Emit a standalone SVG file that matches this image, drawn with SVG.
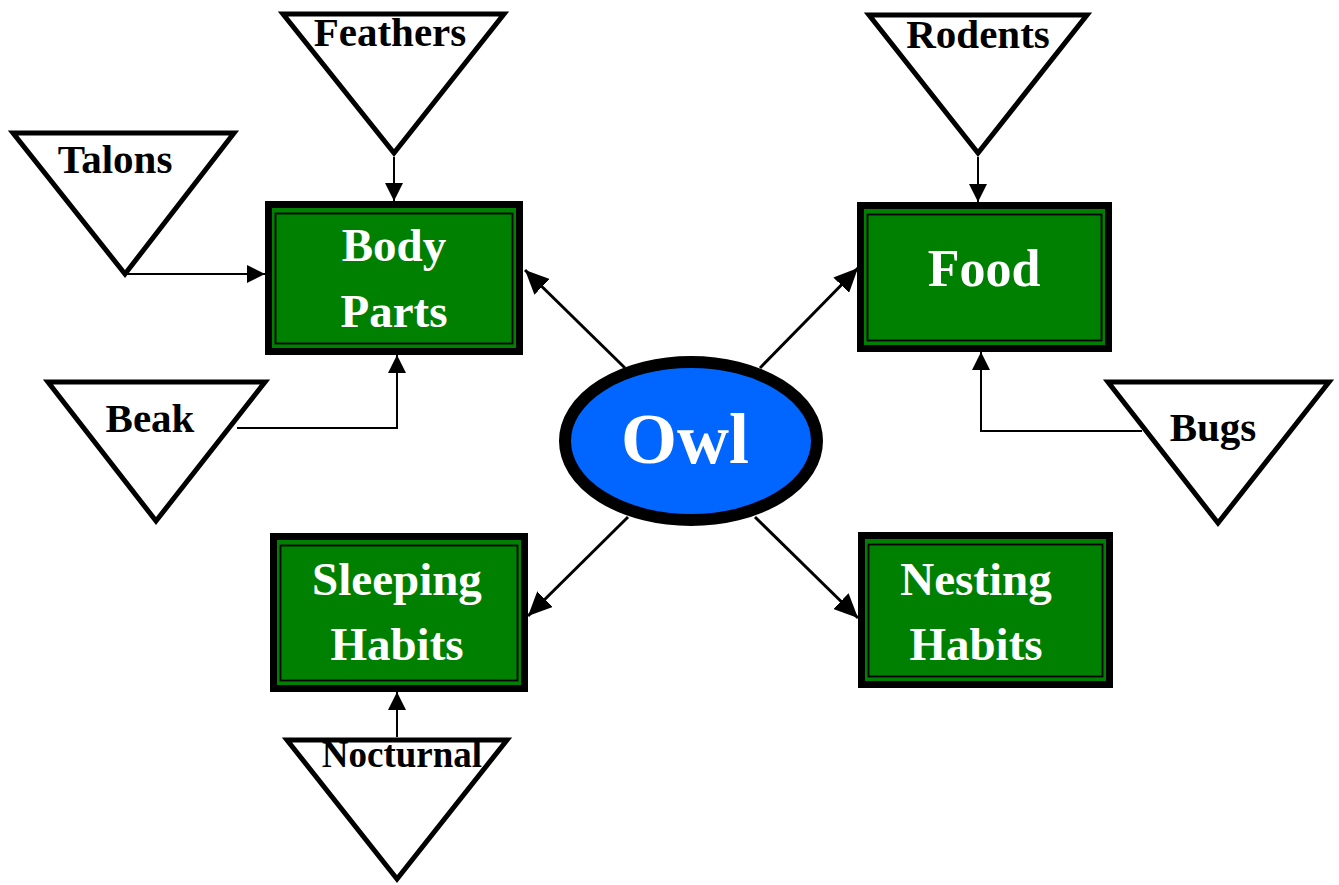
<svg xmlns="http://www.w3.org/2000/svg" width="1339" height="885" viewBox="0 0 1339 885">
<style>
.box{fill:#008000;stroke:#000;stroke-width:7}
.inner{fill:none;stroke:#000;stroke-width:1.8}
.tri{fill:#fff;stroke:#000;stroke-width:5;stroke-linejoin:miter}
.bt{font-family:"Liberation Serif","Times New Roman",serif;font-weight:bold;fill:#fff;text-anchor:middle}
.lt{font-family:"Liberation Serif","Times New Roman",serif;font-weight:bold;fill:#000;text-anchor:middle}
.thin{fill:none;stroke:#000;stroke-width:2;marker-end:url(#a)}
.thick{fill:none;stroke:#000;stroke-width:3;marker-end:url(#b)}
</style>
<defs>
<marker id="a" markerUnits="userSpaceOnUse" markerWidth="18" markerHeight="18" refX="18" refY="9" orient="auto"><path d="M0,0 L18,9 L0,18 z" fill="#000"/></marker>
<marker id="b" markerUnits="userSpaceOnUse" markerWidth="24" markerHeight="22" refX="24" refY="11" orient="auto"><path d="M0,0 L24,11 L0,22 z" fill="#000"/></marker>
</defs>
<rect width="1339" height="885" fill="#fff"/>
<g id="connectors">
<path class="thin" d="M126,274 H265"/>
<path class="thin" d="M394,157 V201"/>
<path class="thin" d="M237,428 H397 V355"/>
<path class="thin" d="M978,157 V202"/>
<path class="thin" d="M1142,431 H981 V352"/>
<path class="thin" d="M397,737 V692"/>
<path class="thick" d="M625,368 L525,270"/>
<path class="thick" d="M760,368 L858,268"/>
<path class="thick" d="M628,517 L528,616"/>
<path class="thick" d="M755,517 L858,618"/>
</g>
<g id="owl">
<ellipse cx="691" cy="441" rx="126" ry="79" fill="#0066ff" stroke="#000" stroke-width="12"/>
<text class="bt" x="685" y="463" font-size="72">Owl</text>
</g>
<g id="body-parts">
<rect class="box" x="268.5" y="204.5" width="251" height="147"/>
<rect class="inner" x="275.5" y="213.5" width="237" height="130"/>
<text class="bt" x="394" y="261" font-size="47">Body</text>
<text class="bt" x="394" y="327" font-size="47">Parts</text>
</g>
<g id="food">
<rect class="box" x="860.5" y="205.5" width="248" height="143"/>
<rect class="inner" x="867.5" y="214.5" width="234" height="126"/>
<text class="bt" x="984" y="286" font-size="52">Food</text>
</g>
<g id="sleeping-habits">
<rect class="box" x="273.5" y="536.5" width="251" height="152"/>
<rect class="inner" x="280.5" y="545.5" width="237" height="135"/>
<text class="bt" x="397" y="595" font-size="47">Sleeping</text>
<text class="bt" x="397" y="660" font-size="47">Habits</text>
</g>
<g id="nesting-habits">
<rect class="box" x="861.5" y="535.5" width="248" height="149"/>
<rect class="inner" x="868.5" y="544.5" width="234" height="132"/>
<text class="bt" x="976" y="595" font-size="47">Nesting</text>
<text class="bt" x="976" y="660" font-size="47">Habits</text>
</g>
<g id="talons">
<polygon class="tri" points="13,133 234,133 125,274"/>
<text class="lt" x="115" y="173" font-size="41">Talons</text>
</g>
<g id="feathers">
<polygon class="tri" points="283,14 504,14 394,153"/>
<text class="lt" x="390" y="46" font-size="41">Feathers</text>
</g>
<g id="beak">
<polygon class="tri" points="48,382 265,382 156,521"/>
<text class="lt" x="150" y="432" font-size="41">Beak</text>
</g>
<g id="rodents">
<polygon class="tri" points="869,15 1087,15 978,153"/>
<text class="lt" x="978" y="48" font-size="41">Rodents</text>
</g>
<g id="bugs">
<polygon class="tri" points="1108,382 1329,382 1218,523"/>
<text class="lt" x="1213" y="441" font-size="41">Bugs</text>
</g>
<g id="nocturnal">
<polygon class="tri" points="287,740 507,740 397,879"/>
<text class="lt" x="402" y="767" font-size="37">Nocturnal</text>
</g>
</svg>
